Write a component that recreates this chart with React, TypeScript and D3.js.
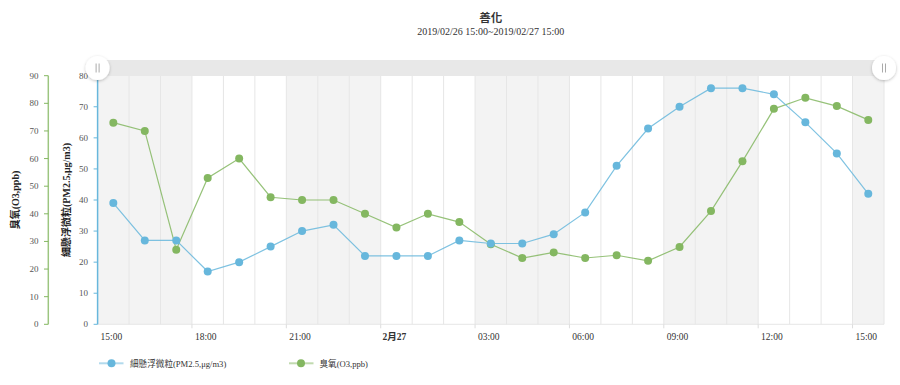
import React from "react";
import * as d3 from "d3";

const title = "善化";
const subtitle = "2019/02/26 15:00~2019/02/27 15:00";
const hours = [
  "02/26 15:00", "02/26 16:00", "02/26 17:00", "02/26 18:00", "02/26 19:00",
  "02/26 20:00", "02/26 21:00", "02/26 22:00", "02/26 23:00", "02/27 00:00",
  "02/27 01:00", "02/27 02:00", "02/27 03:00", "02/27 04:00", "02/27 05:00",
  "02/27 06:00", "02/27 07:00", "02/27 08:00", "02/27 09:00", "02/27 10:00",
  "02/27 11:00", "02/27 12:00", "02/27 13:00", "02/27 14:00", "02/27 15:00",
];
const pm25 = [39, 27, 27, 17, 20, 25, 30, 32, 22, 22, 22, 27, 26, 26, 29, 36, 51, 63, 70, 76, 76, 74, 65, 55, 42];
const o3 = [73, 70, 27, 53, 60, 46, 45, 45, 40, 35, 40, 37, 29, 24, 26, 24, 25, 23, 28, 41, 59, 78, 82, 79, 74];
const xTicks = [
  { at: "02/26 15:00", label: "15:00", bold: false },
  { at: "02/26 18:00", label: "18:00", bold: false },
  { at: "02/26 21:00", label: "21:00", bold: false },
  { at: "02/27 00:00", label: "2月27", bold: true },
  { at: "02/27 03:00", label: "03:00", bold: false },
  { at: "02/27 06:00", label: "06:00", bold: false },
  { at: "02/27 09:00", label: "09:00", bold: false },
  { at: "02/27 12:00", label: "12:00", bold: false },
  { at: "02/27 15:00", label: "15:00", bold: false },
];
const pmTicks = [0, 10, 20, 30, 40, 50, 60, 70, 80];
const o3Ticks = [0, 10, 20, 30, 40, 50, 60, 70, 80, 90];
const pmName = "細懸浮微粒(PM2.5,μg/m3)";
const o3Name = "臭氧(O3,ppb)";

const BLUE = "#67b7dc";
const GREEN = "#84b761";
const SERIF = "'Liberation Serif', 'Noto Sans CJK TC', serif";

export default function App() {
  const W = 900, H = 385;
  const left = 97.6, right = 884, top = 75.7, bottom = 324.3;
  const x = d3.scaleBand<string>().domain(hours).range([left, right]).paddingInner(0).paddingOuter(0);
  const bw = x.bandwidth();
  const cx = (h: string) => (x(h) as number) + bw / 2;
  const yPm = d3.scaleLinear().domain([0, 80]).range([bottom, top]);
  const yO3 = d3.scaleLinear().domain([0, 90]).range([bottom, top]);

  const linePm = d3.line<number>().x((_, i) => cx(hours[i])).y((d) => yPm(d));
  const lineO3 = d3.line<number>().x((_, i) => cx(hours[i])).y((d) => yO3(d));
  const midX = (left + right) / 2;

  return (
    <svg width={W} height={H} style={{ position: "absolute", left: 0, top: 0, background: "#fff" }}>
      <defs>
        <filter id="sh" x="-50%" y="-50%" width="200%" height="200%">
          <feDropShadow dx="0" dy="1" stdDeviation="1.5" floodColor="#000" floodOpacity="0.25" />
        </filter>
      </defs>
      {/* title */}
      <text x={midX} y={22} textAnchor="middle" fontSize={11.5} fontWeight="bold" fill="#333" fontFamily={SERIF}>{title}</text>
      <text x={midX} y={34.5} textAnchor="middle" fontSize={10} fill="#333" fontFamily={SERIF}>{subtitle}</text>

      {/* bands */}
      {hours.map((h, i) => (
        Math.floor(i / 3) % 2 === 0 ? (
          <rect key={"b" + h} x={x(h)} y={top} width={bw} height={bottom - top} fill="#f3f3f3" />
        ) : null
      ))}
      {/* vertical grid */}
      {hours.slice(1).map((h) => (
        <line key={"g" + h} x1={x(h)} x2={x(h)} y1={top} y2={bottom} stroke="#e6e6e6" strokeWidth={1} />
      ))}
      <line x1={right} x2={right} y1={top} y2={bottom} stroke="#e6e6e6" />
      <line x1={left} x2={right} y1={bottom} y2={bottom} stroke="#e6e6e6" />
      {/* x ticks at band boundaries */}
      {xTicks.slice(1).map((t) => (
        <line key={"xt" + t.at} x1={x(t.at)} x2={x(t.at)} y1={bottom} y2={bottom + 4} stroke="#ddd" />
      ))}
      {xTicks.map((t) => (
        <text key={"xl" + t.at} x={cx(t.at) - 2} y={340} textAnchor="middle" fontSize={9.5}
          fontWeight={t.bold ? "bold" : "normal"} fill="#333" fontFamily={SERIF}>{t.label}</text>
      ))}

      {/* PM axis */}
      <line x1={left} x2={left} y1={top} y2={bottom} stroke={BLUE} strokeWidth={1.5} />
      {pmTicks.map((v) => (
        <g key={"pm" + v}>
          <line x1={left - 4} x2={left} y1={yPm(v)} y2={yPm(v)} stroke={BLUE} />
          <text x={88} y={yPm(v) + 3} textAnchor="end" fontSize={9} fill="#555" fontFamily={SERIF}>{v}</text>
        </g>
      ))}
      <text transform={`translate(69.5, ${(top + bottom) / 2}) rotate(-90)`} textAnchor="middle" fontSize={10}
        fontWeight="bold" fill="#222" fontFamily={SERIF}>{pmName}</text>

      {/* O3 axis */}
      <line x1={48.3} x2={48.3} y1={top} y2={bottom} stroke={GREEN} strokeWidth={1.5} opacity={0.8} />
      {o3Ticks.map((v) => (
        <g key={"o3" + v}>
          <line x1={44} x2={48.3} y1={yO3(v)} y2={yO3(v)} stroke={GREEN} />
          <text x={38.5} y={yO3(v) + 3} textAnchor="end" fontSize={9} fill="#555" fontFamily={SERIF}>{v}</text>
        </g>
      ))}
      <text transform={`translate(19, ${(top + bottom) / 2}) rotate(-90)`} textAnchor="middle" fontSize={10}
        fontWeight="bold" fill="#222" fontFamily={SERIF}>{o3Name}</text>

      {/* series */}
      <path d={lineO3(o3) as string} fill="none" stroke={GREEN} strokeWidth={1.2} opacity={0.85} />
      {o3.map((v, i) => (
        <circle key={"oc" + i} cx={cx(hours[i])} cy={yO3(v)} r={4} fill={GREEN} />
      ))}
      <path d={linePm(pm25) as string} fill="none" stroke={BLUE} strokeWidth={1.2} opacity={0.85} />
      {pm25.map((v, i) => (
        <circle key={"pc" + i} cx={cx(hours[i])} cy={yPm(v)} r={4} fill={BLUE} />
      ))}

      {/* scrollbar */}
      <rect x={left} y={60} width={right - left} height={16} fill="#e8e8e8" />
      {[left, right].map((hx, i) => (
        <g key={"h" + i}>
          <circle cx={hx} cy={68} r={12} fill="#fff" filter="url(#sh)" />
          <line x1={hx - 1.5} x2={hx - 1.5} y1={63.5} y2={72.5} stroke="#aaa" />
          <line x1={hx + 1.5} x2={hx + 1.5} y1={63.5} y2={72.5} stroke="#aaa" />
        </g>
      ))}

      {/* legend */}
      <line x1={99} x2={123.5} y1={363.3} y2={363.3} stroke={BLUE} strokeWidth={2} opacity={0.5} />
      <circle cx={111.5} cy={363.3} r={4} fill={BLUE} />
      <text x={130} y={366.5} fontSize={8.6} fill="#333" fontFamily={SERIF}>{pmName}</text>
      <line x1={289} x2={313.5} y1={363.3} y2={363.3} stroke={GREEN} strokeWidth={2} opacity={0.5} />
      <circle cx={301} cy={363.3} r={4} fill={GREEN} />
      <text x={319.5} y={366.5} fontSize={8.6} fill="#333" fontFamily={SERIF}>{o3Name}</text>
    </svg>
  );
}
